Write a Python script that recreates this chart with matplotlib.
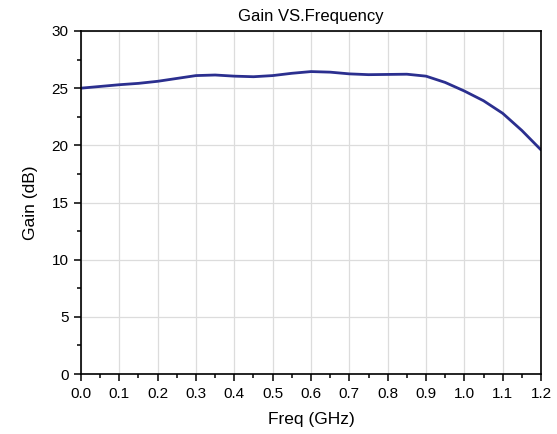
import numpy as np
import matplotlib
matplotlib.use('Agg')
import matplotlib.pyplot as plt
from matplotlib.ticker import MultipleLocator

plt.rcParams['font.family'] = ['Liberation Sans', 'DejaVu Sans']

# values
freq = [0.0, 0.05, 0.1, 0.15, 0.2, 0.25, 0.3, 0.35, 0.4, 0.45, 0.5, 0.55,
        0.6, 0.65, 0.7, 0.75, 0.8, 0.85, 0.9, 0.95, 1.0, 1.05, 1.1, 1.15, 1.2]
gain = [25.0, 25.15, 25.3, 25.42, 25.6, 25.85, 26.1, 26.15, 26.05, 26.0, 26.1, 26.3,
        26.45, 26.4, 26.25, 26.18, 26.2, 26.22, 26.05, 25.5, 24.75, 23.9, 22.8, 21.3, 19.6]

fig = plt.figure(figsize=(5.57, 4.34), dpi=100)
ax = fig.add_axes([0.1454, 0.1382, 0.8259, 0.7904])

ax.plot(freq, gain, color='#2b2f8f', lw=2.0, solid_capstyle='round', solid_joinstyle='round')

ax.set_xlim(0, 1.2)
ax.set_ylim(0, 30)
ax.xaxis.set_major_locator(MultipleLocator(0.1))
ax.xaxis.set_minor_locator(MultipleLocator(0.05))
ax.yaxis.set_major_locator(MultipleLocator(5))
ax.yaxis.set_minor_locator(MultipleLocator(2.5))
ax.set_xticklabels([f'{v:.1f}' for v in ax.get_xticks()])
ax.grid(True, which='major', color='#dcdcdc', lw=0.9)
ax.set_axisbelow(True)
ax.tick_params(which='both', direction='out', labelsize=11, width=1.1)
ax.tick_params(which='major', length=5, pad=4)
ax.tick_params(which='minor', length=3)
for s in ax.spines.values():
    s.set_linewidth(1.2)

ax.set_xlabel('Freq (GHz)', fontsize=12.5, labelpad=8)
ax.set_ylabel('Gain (dB)', fontsize=12.5, labelpad=10)
ax.set_title('Gain VS.Frequency', fontsize=12, pad=7)

fig.savefig('out.png', dpi=100)
